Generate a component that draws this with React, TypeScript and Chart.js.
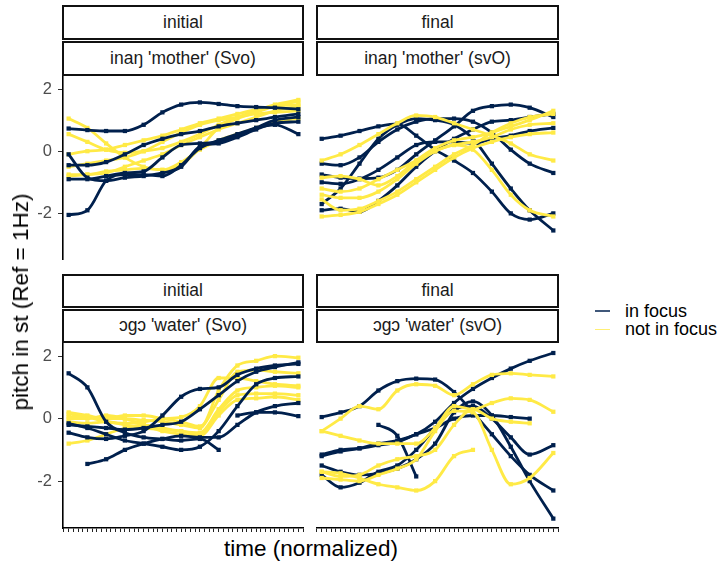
import React, { useEffect, useRef } from "react";
import { Chart, registerables } from "chart.js";
Chart.register(...registerables);

// ---------- data ----------
const TIME = [1, 5, 9, 13, 17, 21, 25, 29, 33, 37, 41, 45, 50];
const Y_TICKS = [-2, 0, 2];
const X_TICK_FIRST = 0;
const X_TICK_LAST = 51;
const POSITION_LABELS = ["initial", "final", "initial", "final"];
const WORD_LABELS = ["inaŋ 'mother' (Svo)", "inaŋ 'mother' (svO)", "ɔgɔ 'water' (Svo)", "ɔgɔ 'water' (svO)"];
const LEGEND_LABELS = ["in focus", "not in focus"];
const COLORS = ["#00204D", "#FFEA46"];

const motherSvoFocus = [
  [0.73, 0.68, 0.65, 0.65, 0.85, 1.25, 1.5, 1.57, 1.52, 1.45, 1.42, 1.4, 1.35],
  [-2.05, -1.9, -0.95, -0.75, -0.75, -0.8, -0.45, 0.1, 0.35, 0.55, 0.75, 0.85, 0.55],
  [-0.1, -0.85, -0.95, -0.85, -0.8, -0.7, -0.5, 0.15, 0.25, 0.45, 0.7, 0.9, 0.95],
  [-0.45, -0.45, -0.35, -0.1, 0.2, 0.4, 0.55, 0.65, 0.8, 0.9, 1.0, 1.1, 1.2],
  [-0.9, -0.9, -0.8, -0.7, -0.65, -0.2, 0.2, 0.25, 0.3, 0.5, 0.75, 1.0, 1.1],
];
const motherSvoNotFocus = [
  [1.05, 0.75, 0.25, -0.2, -0.5, -0.6, -0.45, 0.1, 0.75, 1.05, 1.25, 1.45, 1.6],
  [0.55, 0.3, 0.05, -0.05, 0.0, 0.1, 0.3, 0.55, 0.85, 1.1, 1.3, 1.5, 1.65],
  [-0.75, -0.75, -0.65, -0.6, -0.55, -0.6, -0.35, 0.05, 0.35, 0.55, 0.75, 0.95, 1.05],
  [-0.8, -0.75, -0.7, -0.5, -0.3, -0.1, 0.2, 0.45, 0.7, 0.9, 1.1, 1.3, 1.45],
  [-0.1, 0.0, 0.05, 0.2, 0.35, 0.5, 0.7, 0.9, 1.05, 1.2, 1.35, 1.45, 1.5],
  [-0.5, -0.4, -0.3, -0.2, 0.0, 0.3, 0.6, 0.85, 1.0, 1.1, 1.2, 1.25, 1.3],
];
const motherSvOFocus = [
  [0.4, 0.5, 0.65, 0.8, 0.88, 0.5, 0.05, -0.3, -0.7, -1.3, -2.0, -2.2, -2.0],
  [-1.7, -1.2, -0.4, 0.4, 0.85, 1.05, 1.0, 0.85, 0.4, -0.4, -1.2, -1.9, -2.55],
  [-0.4, -0.45, -0.2, 0.3, 0.7, 0.95, 1.05, 1.05, 0.95, 0.6, 0.05, -0.4, -0.7],
  [-0.75, -0.85, -0.88, -0.85, -0.6, -0.1, 0.35, 0.8, 1.3, 1.45, 1.5, 1.4, 1.1],
  [-1.9, -1.85, -1.95, -1.6, -1.1, -0.5, 0.0, 0.4, 0.7, 0.95, 1.0, 1.1, 1.2],
  [-1.0, -1.05, -0.9, -0.6, -0.2, 0.2, 0.3, 0.3, 0.25, 0.4, 0.5, 0.65, 0.75],
];
const motherSvONotFocus = [
  [-0.3, -0.1, 0.2, 0.55, 0.9, 1.15, 1.1, 0.9, 0.7, 0.5, 0.25, -0.1, -0.3],
  [-0.85, -0.8, -0.9, -1.1, -0.8, -0.3, 0.1, 0.35, 0.45, 0.6, 0.8, 1.0, 1.3],
  [-1.4, -1.5, -1.5, -1.3, -0.9, -0.4, 0.0, 0.2, 0.3, 0.45, 0.7, 0.85, 0.9],
  [-1.55, -1.9, -1.85, -1.6, -1.3, -0.9, -0.5, -0.1, 0.2, 0.6, 0.9, 1.1, 1.2],
  [-2.1, -2.05, -1.95, -1.7, -1.4, -1.0, -0.6, -0.2, 0.1, 0.3, 0.45, 0.55, 0.6],
  [-1.2, -1.3, -1.2, -0.9, -0.6, -0.3, 0.0, 0.2, 0.05, -0.6, -1.4, -1.9, -2.1],
];
const waterSvoFocus = [
  [1.45, 1.0, -0.1, -0.45, -0.6, -0.65, -0.7, -0.65, -1.0, null, null, null, null],
  [-0.2, -0.25, -0.3, -0.35, -0.3, -0.2, -0.1, 0.3, 0.75, 1.2, 1.5, 1.65, 1.8],
  [null, -1.45, -1.3, -1.0, -0.8, -0.65, -0.55, -0.6, -0.6, -0.2, 0.2, 0.4, 0.5],
  [null, null, null, null, null, null, null, null, null, 0.1, 0.2, 0.2, 0.08],
  [-0.15, -0.3, -0.5, -0.7, -0.8, -0.9, -1.0, -0.9, -0.4, 0.4, 1.1, 1.3, 1.35],
  [-0.45, -0.6, -0.65, -0.55, -0.4, 0.1, 0.7, 0.95, 1.0, 1.4, 1.6, 1.7, 1.75],
];
const waterSvoNotFocus = [
  [0.2, 0.1, 0.0, 0.0, -0.05, -0.1, -0.2, -0.3, 0.9, 1.7, 1.85, 2.0, 1.95],
  [0.05, 0.05, 0.0, 0.1, 0.1, 0.0, -0.1, -0.25, 0.6, 1.5, 1.55, 1.5, 1.45],
  [-0.8, -0.7, -0.5, -0.3, -0.2, -0.3, -0.4, -0.45, 0.3, 0.9, 1.0, 1.05, 1.0],
  [-0.1, -0.15, -0.1, -0.2, -0.3, -0.35, -0.4, -0.5, 0.2, 0.75, 0.8, 0.8, 0.75],
  [0.0, 0.0, 0.1, 0.0, -0.2, -0.4, -0.5, -0.55, 0.1, 0.6, 0.65, 0.7, 0.6],
  [0.15, 0.05, -0.1, -0.15, -0.1, 0.0, 0.05, 0.4, 1.3, 1.3, 1.2, 1.1, 1.05],
];
const waterSvOFocus = [
  [0.05, 0.2, 0.4, 0.9, 1.2, 1.28, 1.25, 0.85, 0.2, -0.5, -1.2, -1.8, -2.3],
  [-1.2, -1.05, -0.95, -0.8, -0.7, -0.5, -0.1, 0.5, 0.95, 1.3, 1.6, 1.85, 2.1],
  [-1.5, -1.7, -1.8, -1.75, -1.6, -1.3, -0.8, 0.2, 0.55, 0.1, -0.9, -2.0, -3.2],
  [-1.15, -1.0, -0.95, -0.85, -0.75, -0.5, -0.3, 0.0, 0.1, 0.1, 0.05, 0.0, null],
  [-1.8, -2.2, -2.05, -1.7, -1.5, -1.0, -0.3, 0.3, 0.4, 0.0, -0.6, -1.15, -0.85],
  [null, null, null, -0.2, -0.55, -1.85, null, null, null, null, null, null, null],
];
const waterSvONotFocus = [
  [-0.4, 0.0, 0.4, 0.3, 0.9, 1.1, 1.05, 0.75, 1.1, 1.4, 1.45, 1.4, 1.35],
  [-0.4, -0.55, -0.7, -0.8, -0.8, -0.8, -0.3, 0.4, 0.3, 0.5, 0.65, 0.6, 0.22],
  [-1.9, -1.95, -2.0, -1.8, -1.6, -1.3, -0.4, 0.25, 0.2, -1.0, -2.1, -1.9, -1.1],
  [-1.7, -1.85, -1.8, -1.5, -1.3, -1.2, -1.0, -0.2, 0.3, 0.0, -0.1, -0.15, null],
  [-1.7, -1.75, -1.9, -2.1, -2.2, -2.3, -2.0, -1.2, -1.0, null, null, null, null],
];

const FONT = "'Liberation Sans', Arial, Helvetica, sans-serif";

type PanelProps = {
  left: number; top: number; width: number; height: number;
  focus: (number | null)[][]; notFocus: (number | null)[][];
  showY: boolean; showX: boolean; focusOnTop: boolean;
};

function Panel(p: PanelProps) {
  const ref = useRef<HTMLCanvasElement>(null);
  useEffect(() => {
    if (!ref.current) return;
    const mk = (arr: (number | null)[], color: string) => ({
      data: arr.map((v, i) => ({ x: TIME[i], y: v })),
      borderColor: color,
      backgroundColor: color,
      borderWidth: 2.8,
      pointStyle: "rect",
      pointRadius: 3,
      pointBorderWidth: 0,
      pointHoverRadius: 0,
      cubicInterpolationMode: "monotone",
      spanGaps: false,
      fill: false,
    });
    const f = p.focus.map((a) => mk(a, COLORS[0]));
    const n = p.notFocus.map((a) => mk(a, COLORS[1]));
    const datasets = p.focusOnTop ? [...n, ...f] : [...f, ...n];
    const chart = new Chart(ref.current, {
      type: "line",
      data: { datasets } as any,
      options: {
        animation: false,
        responsive: false,
        devicePixelRatio: 1,
        events: [],
        layout: { padding: 0, autoPadding: false },
        plugins: { legend: { display: false }, tooltip: { enabled: false } },
        scales: {
          x: {
            type: "linear",
            min: -0.2,
            max: 51.2,
            display: p.showX,
            grid: { drawOnChartArea: false, drawTicks: true, tickLength: 4, color: "#222222", lineWidth: 1 },
            border: { display: true, color: "#000000", width: 1.6 },
            ticks: { display: false },
            afterBuildTicks: (s: any) => {
              const t = [];
              for (let v = X_TICK_FIRST; v <= X_TICK_LAST; v++) t.push({ value: v });
              s.ticks = t;
            },
            afterFit: (s: any) => {
              s.height = p.showX ? 5 : 0;
              s.paddingLeft = 0; s.paddingRight = 0; s.paddingTop = 0; s.paddingBottom = 0;
            },
          },
          y: {
            type: "linear",
            min: -3.5,
            max: 2.42,
            display: p.showY,
            grid: { drawOnChartArea: false, drawTicks: true, tickLength: 5, color: "#333333", lineWidth: 1 },
            border: { display: true, color: "#000000", width: 1.6 },
            ticks: { font: { family: FONT, size: 16.5 }, color: "#4d4d4d", padding: 6 },
            afterBuildTicks: (s: any) => { s.ticks = Y_TICKS.map((v) => ({ value: v })); },
            afterFit: (s: any) => {
              s.width = p.showY ? 63 : 0;
              s.paddingLeft = 0; s.paddingRight = 0; s.paddingTop = 0; s.paddingBottom = 0;
            },
          },
        },
      } as any,
    });
    return () => chart.destroy();
  }, []);
  return (
    <canvas
      ref={ref}
      width={p.width}
      height={p.height}
      style={{ position: "absolute", left: p.left, top: p.top, width: p.width, height: p.height, display: "block" }}
    />
  );
}

function Strip({ left, top, width, height, text }: { left: number; top: number; width: number; height: number; text: string }) {
  return (
    <div
      style={{
        position: "absolute", left, top, width, height, boxSizing: "border-box",
        border: "2px solid #111", background: "#ffffff", display: "flex",
        alignItems: "center", justifyContent: "center", fontFamily: FONT,
        fontSize: 17.5, color: "#1a1a1a", whiteSpace: "nowrap",
      }}
    >
      {text}
    </div>
  );
}

export default function App() {
  const cols = [{ left: 62, width: 242 }, { left: 316, width: 243 }];
  const rows = [{ s1: 5, s2: 41, sh: 34.5 }, { s1: 274, s2: 309, sh: 33.5 }];
  const strips: any[] = [];
  for (let r = 0; r < 2; r++) {
    for (let c = 0; c < 2; c++) {
      const i = r * 2 + c;
      strips.push(<Strip key={"a" + i} left={cols[c].left} top={rows[r].s1} width={cols[c].width} height={rows[r].sh} text={POSITION_LABELS[i]} />);
      strips.push(<Strip key={"b" + i} left={cols[c].left} top={rows[r].s2} width={cols[c].width} height={rows[r].sh} text={WORD_LABELS[i]} />);
    }
  }
  return (
    <div style={{ position: "fixed", left: 0, top: 0, width: 720, height: 564, background: "#ffffff", overflow: "hidden", fontFamily: FONT }}>
      <Panel left={0} top={76} width={304} height={184} focus={motherSvoFocus} notFocus={motherSvoNotFocus} showY={true} showX={false} focusOnTop={false} />
      <Panel left={316} top={76} width={243} height={184} focus={motherSvOFocus} notFocus={motherSvONotFocus} showY={false} showX={false} focusOnTop={true} />
      <Panel left={0} top={343} width={304} height={190} focus={waterSvoFocus} notFocus={waterSvoNotFocus} showY={true} showX={true} focusOnTop={false} />
      <Panel left={316} top={343} width={243} height={190} focus={waterSvOFocus} notFocus={waterSvONotFocus} showY={false} showX={true} focusOnTop={true} />
      {strips}
      <div style={{ position: "absolute", left: 21, top: 302, transform: "translate(-50%, -50%) rotate(-90deg)", fontSize: 22.5, color: "#000", whiteSpace: "nowrap" }}>
        pitch in st (Ref = 1Hz)
      </div>
      <div style={{ position: "absolute", left: 311, top: 549, transform: "translate(-50%, -50%)", fontSize: 22.5, color: "#000", whiteSpace: "nowrap" }}>
        time (normalized)
      </div>
      {LEGEND_LABELS.map((lab, i) => (
        <React.Fragment key={lab}>
          <div style={{ position: "absolute", left: 595, top: 310 + i * 18.6, width: 15, height: 1.5, background: COLORS[i], opacity: 0.75 }} />
          <div style={{ position: "absolute", left: 625, top: 310.5 + i * 18.6, transform: "translateY(-50%)", fontSize: 18, color: "#000", whiteSpace: "nowrap" }}>
            {lab}
          </div>
        </React.Fragment>
      ))}
    </div>
  );
}
